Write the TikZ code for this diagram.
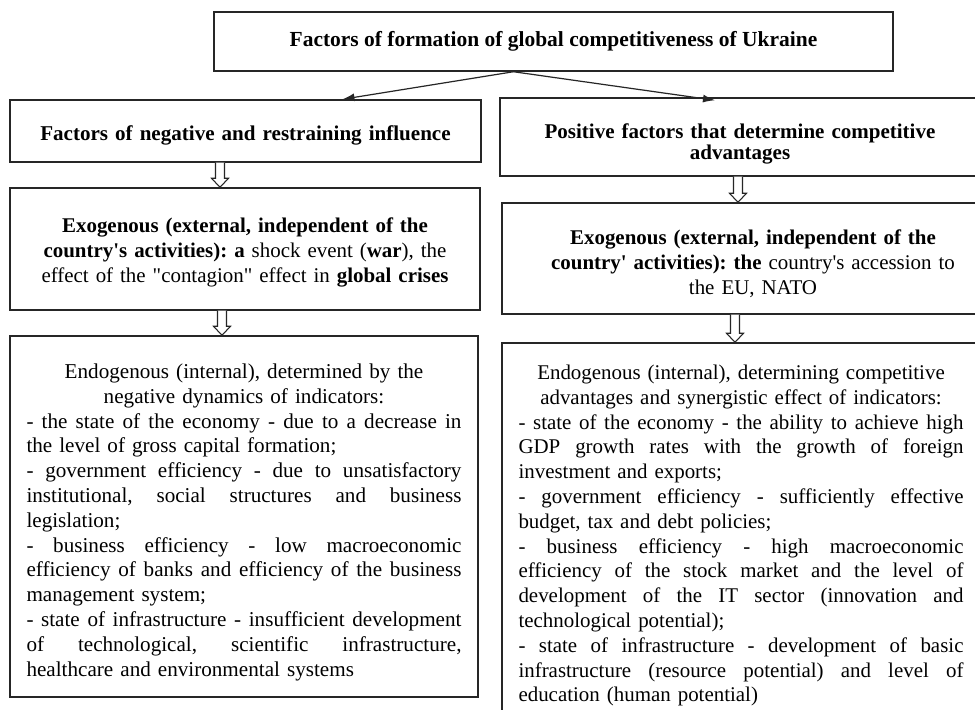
\documentclass[tikz,border=0pt]{standalone}
\usepackage{fontspec}
\setmainfont{Liberation Serif}[Ligatures=TeXOff]
\usetikzlibrary{calc,arrows.meta}
\frenchspacing
\newdimen\px \px=0.75pt
\newcommand\fsz[1]{\fontsize{#1}{18.6}\selectfont}
\newcommand\J[1]{\makebox[\linewidth][s]{\spaceskip=0pt\xspaceskip=0pt #1}}
\newcommand\C[1]{\makebox[\linewidth][c]{#1}}
\newcommand\down[1]{\rule{0pt}{\dimexpr 15\px+#1\px*2\relax}}
\newcommand\harrow[3]{%
  \path (#3,0) coordinate (hx);
  \path (#1.south -| hx) coordinate (ha) (#2.north -| hx) coordinate (hb);
  \draw[hollow] ($(ha)+(-4.5,0)$) -- ($(hb)+(-4.5,-9)$) -- ($(hb)+(-8.5,-9)$) -- (hb)
     -- ($(hb)+(8.5,-9)$) -- ($(hb)+(4.5,-9)$) -- ($(ha)+(4.5,0)$);
}
\begin{document}
\frenchspacing
\begin{tikzpicture}[x=0.75pt,y=-0.75pt,
  box/.style={draw=black!85,line width=1.1pt,inner sep=0pt,align=center,font=\frenchspacing\fsz{16.1}},
  hbox/.style={box,font=\frenchspacing\bfseries\fsz{16.1}},
  conn/.style={draw=black!85,line width=0.9pt,-{Latex[length=9pt,width=6pt]}},
  hollow/.style={draw=black!85,line width=0.8pt,fill=white}]
\useasboundingbox (0,0) rectangle (975,710);
\clip (0,0) rectangle (975,710);
\fill[white] (0,0) rectangle (975,710);

\node[hbox,minimum width=679\px,minimum height=59\px] (top) at (553.5,41.5)
  {Factors of formation of global competitiveness of Ukraine};

\node[hbox,font=\frenchspacing\bfseries\fsz{15.8},minimum width=471\px,minimum height=62\px,text width=460\px] (L1) at (245.5,131)
  {\down{4}Factors of negative and restraining influence};

\node[box,font=\frenchspacing\fsz{15.7},minimum width=470\px,minimum height=122\px,text width=460\px] (L2) at (245,249)
  {\down{3.5}\textbf{Exogenous (external, independent of the}\\
   \textbf{country's activities): a} shock event (\textbf{war}), the\\
   effect of the "contagion" effect in \textbf{global crises}};

\node[box,font=\frenchspacing\fsz{15.85},minimum width=468\px,minimum height=361\px,text width=435\px,align=left] (L3) at (244,516.5)
  {\C{\down{5.5}Endogenous (internal), determined by the}\\
   \C{negative dynamics of indicators:}\\
   \J{- the state of the economy - due to a decrease in}\\
   the level of gross capital formation;\\
   \J{- government efficiency - due to unsatisfactory}\\
   \J{institutional, social structures and business}\\
   legislation;\\
   \J{- business efficiency - low macroeconomic}\\
   \J{efficiency of banks and efficiency of the business}\\
   management system;\\
   \J{- state of infrastructure - insufficient development}\\
   \J{of technological, scientific infrastructure,}\\
   healthcare and environmental systems};

\node[hbox,font=\frenchspacing\bfseries\fontsize{15.75}{15.8}\selectfont,minimum width=480\px,minimum height=78\px,text width=470\px] (R1) at (740,137)
  {\down{6.5}Positive factors that determine competitive\\advantages};

\node[box,font=\frenchspacing\fsz{15.7},minimum width=502\px,minimum height=111\px,text width=490\px] (R2) at (753,258.5)
  {\down{5}\textbf{Exogenous (external, independent of the}\\
   \textbf{country' activities): the} country's accession to\\
   the EU, NATO};

\node[box,font=\frenchspacing\fsz{15.7},minimum width=478\px,minimum height=381\px,text width=445\px,align=left] (R3) at (741,533.5)
  {\C{\down{2}Endogenous (internal), determining competitive}\\
   \C{advantages and synergistic effect of indicators:}\\
   \J{- state of the economy - the ability to achieve high}\\
   \J{GDP growth rates with the growth of foreign}\\
   investment and exports;\\
   \J{- government efficiency - sufficiently effective}\\
   budget, tax and debt policies;\\
   \J{- business efficiency - high macroeconomic}\\
   \J{efficiency of the stock market and the level of}\\
   \J{development of the IT sector (innovation and}\\
   technological potential);\\
   \J{- state of infrastructure - development of basic}\\
   \J{infrastructure (resource potential) and level of}\\
   education (human potential)};

\coordinate (src) at ($(top.south)+(-40,0)$);
\draw[conn] (src) -- ($(L1.north)+(97,0)$);
\draw[conn] (src) -- ($(R1.north)+(-25,3)$);

\harrow{L1}{L2}{220}
\harrow{L2}{L3}{222}
\harrow{R1}{R2}{738}
\harrow{R2}{R3}{735}
\end{tikzpicture}
\end{document}
